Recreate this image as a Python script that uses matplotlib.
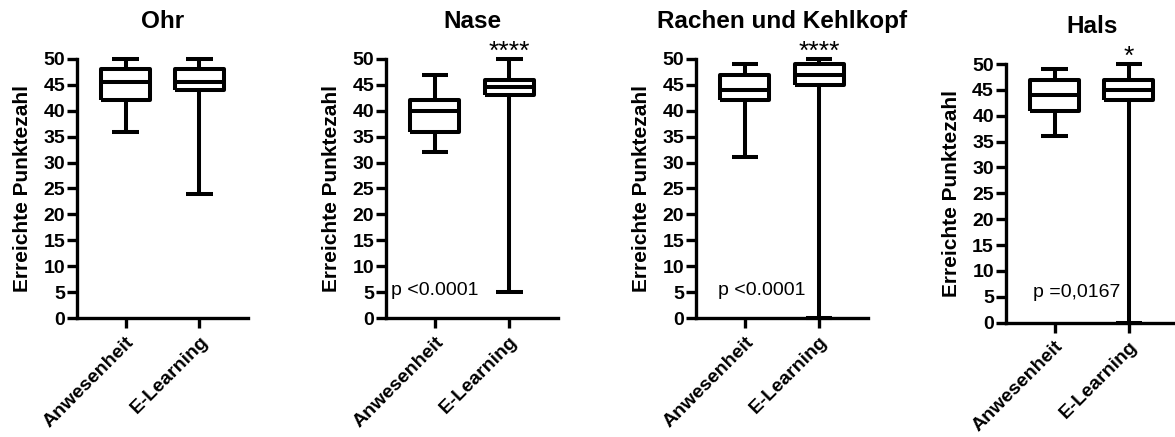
import matplotlib
matplotlib.use("Agg")
import matplotlib.pyplot as plt

plt.rcParams["font.family"] = ["Liberation Sans", "DejaVu Sans"]

# data (whisker low, Q1, median, Q3, whisker high)
groups = ["Anwesenheit", "E-Learning"]
titles = ["Ohr", "Nase", "Rachen und Kehlkopf", "Hals"]
anw_stats = [
    [36, 42, 45.5, 48, 50],
    [32, 36, 40, 42, 47],
    [31, 42, 44, 47, 49],
    [36, 41, 44, 47, 49],
]
elearn_stats = [
    [24, 44, 45.5, 48, 50],
    [5, 43, 44.5, 46, 50],
    [0, 45, 47, 49, 50],
    [0, 43, 45, 47, 50],
]
stars = ["", "****", "****", "*"]
p_texts = ["", "p <0.0001", "p <0.0001", "p =0,0167"]
p_pos = [None, (0.41, 5.4), (0.64, 5.4), (0.70, 5.8)]  # text anchor (x, y) in data units

# axes boxes in figure fraction [left, bottom, width, height]
boxes = [
    [0.0655, 0.2723, 0.1455, 0.5927],
    [0.3285, 0.2723, 0.1465, 0.5927],
    [0.5923, 0.2723, 0.1465, 0.5927],
    [0.8560, 0.2616, 0.1465, 0.5919],
]

lw = 2.9
fig = plt.figure(figsize=(11.75, 4.37), dpi=100)

for i in range(4):
    ax = fig.add_axes(boxes[i])
    stats = []
    for name, s in zip(groups, [anw_stats[i], elearn_stats[i]]):
        stats.append(dict(label=name, whislo=s[0], q1=s[1], med=s[2], q3=s[3], whishi=s[4], fliers=[]))
    props = dict(color="black", linewidth=lw)
    art = ax.bxp(stats, positions=[1, 2], widths=0.66, showfliers=False,
                 boxprops=props, medianprops=props, whiskerprops=props,
                 capprops=props, capwidths=0.36)
    for key in art:
        for a in art[key]:
            a.set_clip_on(False)
            if hasattr(a, "set_solid_capstyle"):
                a.set_solid_capstyle("butt")

    ax.set_xlim(0.34, 2.66)
    ax.set_ylim(0, 50)
    ax.set_yticks(range(0, 51, 5))
    ax.set_yticklabels([str(v) for v in range(0, 51, 5)], fontsize=14, fontweight="bold")
    ax.set_xticks([1, 2])
    ax.set_xticklabels(groups, fontsize=14, fontweight="bold", rotation=45,
                       ha="right", va="top", rotation_mode="anchor")
    ax.spines["top"].set_visible(False)
    ax.spines["right"].set_visible(False)
    ax.spines["left"].set_linewidth(2.4)
    ax.spines["bottom"].set_linewidth(2.4)
    ax.tick_params(axis="both", length=7, width=2.4, pad=1.5)
    ax.tick_params(axis="x", pad=4)

    ax.set_ylabel("Erreichte Punktezahl", fontsize=15, fontweight="bold")
    ax.yaxis.set_label_coords(-0.263, 0.5)
    ax.set_title(titles[i], fontsize=17.5, fontweight="bold", pad=22)

    if stars[i]:
        ax.text(2, 49.0, stars[i], ha="center", va="bottom", fontsize=19, clip_on=False)
    if p_texts[i]:
        ax.text(p_pos[i][0], p_pos[i][1], p_texts[i], ha="left", va="center", fontsize=14)

fig.savefig("out.png", dpi=100)
